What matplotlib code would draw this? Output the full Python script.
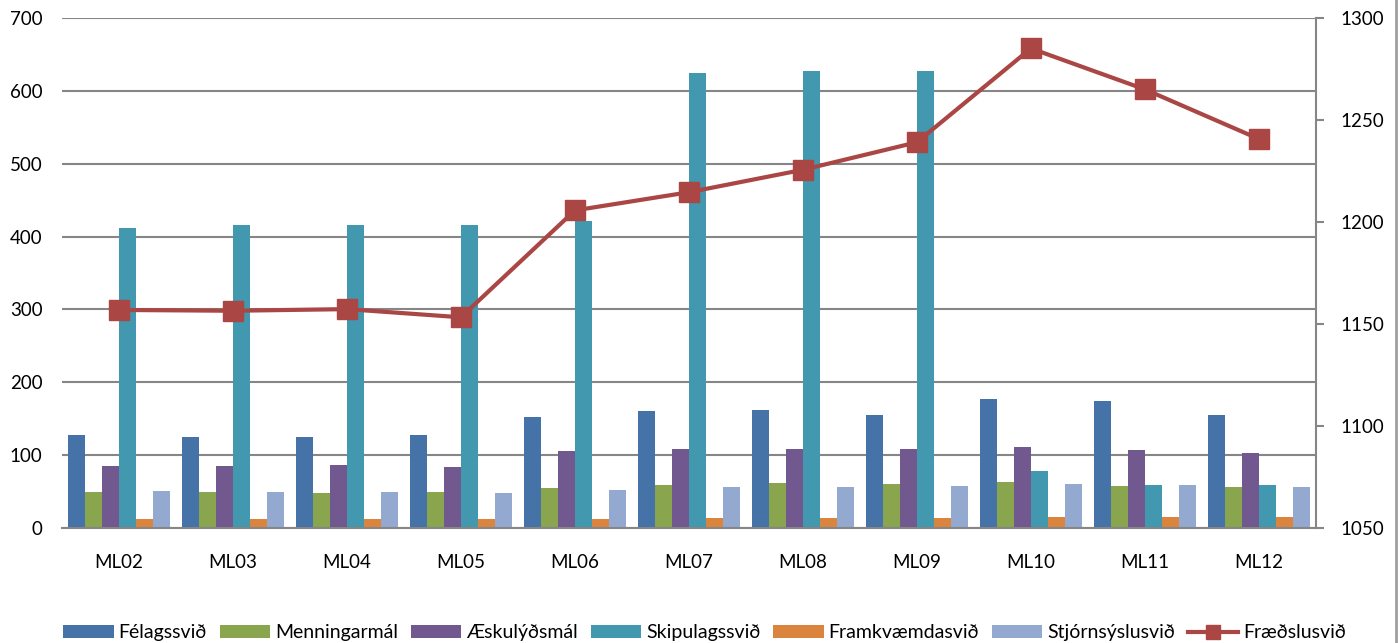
import matplotlib.pyplot as plt
import numpy as np

plt.rcParams['font.family'] = ['Lato', 'DejaVu Sans']

categories = ['ML02', 'ML03', 'ML04', 'ML05', 'ML06', 'ML07', 'ML08', 'ML09', 'ML10', 'ML11', 'ML12']

felagssvid = [127, 125.5, 125.5, 128, 152.5, 160, 162, 155, 177, 175, 155]
menningarmal = [49.5, 49, 48, 49, 55, 59, 62, 61, 62.5, 57.4, 55.7]
eskulydsmal = [85, 85, 86, 84, 106, 108.6, 108.6, 108, 111, 107.5, 103.5]
skipulagssvid = [412, 416, 416, 416, 422, 624.6, 627, 627, 78, 58.5, 58.5]
framkvaemdasvid = [12, 12, 12, 12, 12, 13.5, 13.5, 13.5, 14.6, 14.6, 14.6]
stjornsyslusvid = [50.6, 50, 50, 48, 52, 57, 57, 57.4, 61, 59, 56]
fraedslusvid = [1156.9, 1156.5, 1157.3, 1153.3, 1205.7, 1214.6, 1225.6, 1239.1, 1285.1, 1265, 1240.7]

bar_series = [
    ('Félagssvið', felagssvid, '#4572A7'),
    ('Menningarmál', menningarmal, '#89A54E'),
    ('Æskulýðsmál', eskulydsmal, '#71588F'),
    ('Skipulagssvið', skipulagssvid, '#4198AF'),
    ('Framkvæmdasvið', framkvaemdasvid, '#DB843D'),
    ('Stjórnsýslusvið', stjornsyslusvid, '#93A9CF'),
]

fig = plt.figure(figsize=(13.98, 6.43), dpi=100)
ax = fig.add_axes([0.0443, 0.1788, 0.8970, 0.7932])
ax2 = ax.twinx()

x = np.arange(len(categories))
w = 1 / 6.75  # excel style, gap width 75%
for i, (name, vals, col) in enumerate(bar_series):
    ax.bar(x + (i - 2.5) * w, vals, w, color=col, label=name, zorder=2)

ax.set_xlim(-0.5, len(categories) - 0.5)
ax.set_ylim(0, 700)
ax.set_yticks(range(0, 701, 100))
ax.grid(axis='y', color='#868686', linewidth=1.5, zorder=0)
ax.set_axisbelow(True)
ax.set_xticks(x)
ax.set_xticklabels(categories)
ax.tick_params(axis='x', length=0, pad=19, labelsize=13.5)
ax.tick_params(axis='y', length=0, pad=14, labelsize=13.5)
for s in ['top', 'left', 'right']:
    ax.spines[s].set_visible(False)
ax.spines['bottom'].set_color('#868686')
ax.spines['bottom'].set_linewidth(1.5)

line, = ax2.plot(x, fraedslusvid, color='#AA4643', linewidth=3, marker='s',
                 markersize=14, label='Fræðslusvið')
ax2.set_ylim(1050, 1300)
ax2.set_yticks(range(1050, 1301, 50))
ax2.tick_params(axis='y', direction='out', length=6, width=1.5, color='#868686',
                pad=12, labelsize=13.5)
for s in ['top', 'left', 'bottom']:
    ax2.spines[s].set_visible(False)
ax2.spines['right'].set_color('#868686')
ax2.spines['right'].set_linewidth(1.5)

handles, labels = ax.get_legend_handles_labels()
handles.append(line)
labels.append('Fræðslusvið')
fig.legend(handles, labels, loc='center', bbox_to_anchor=(0.504, 0.0156), ncol=7,
           frameon=False, fontsize=14, handlelength=2.6, handleheight=0.6,
           handletextpad=0.25, columnspacing=0.65, borderaxespad=0,
           markerscale=0.67)

# chart frame edge on the right
fig.add_artist(plt.Line2D([0.9985, 0.9985], [0, 1], color='#A0A0A0', linewidth=2))

fig.savefig('out.png', dpi=100)
